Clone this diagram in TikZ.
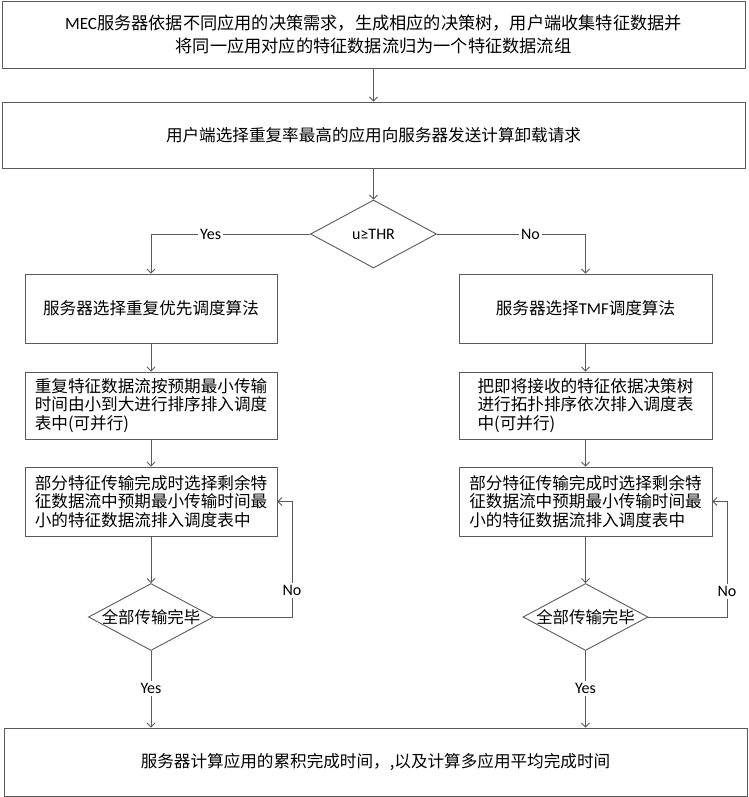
\documentclass[tikz,border=0pt]{standalone}
\usepackage{fontspec}
\setmainfont{Noto Sans CJK SC}
\newfontfamily\lat{Carlito}
\usetikzlibrary{shapes.geometric,arrows.meta}
\definecolor{ln}{HTML}{5A5A5A}
\tikzset{
  box/.style={draw=ln,line width=0.9pt,rectangle,inner sep=0pt,align=center,font=\fontsize{16.6}{18.5}\selectfont},
  lbox/.style={box,align=left},
  dia/.style={draw=ln,line width=0.9pt,diamond,inner sep=0pt},
  diatext/.style={font=\fontsize{16.4}{18}\selectfont,inner sep=0pt},
  arr/.style={draw=ln,line width=0.9pt,-{Straight Barb[length=4pt,width=8pt]}},
  lab/.style={fill=white,inner sep=2pt,font=\lat\fontsize{16}{18}\selectfont}
}
\begin{document}
\begin{tikzpicture}[x=1pt,y=1pt]
\useasboundingbox (0,0) rectangle (748,-797);
\node[box,minimum width=743pt,minimum height=67pt,font=\fontsize{17.2}{23}\selectfont] (b1) at (373.5,-34.5) {{\lat MEC}服务器依据不同应用的决策需求，生成相应的决策树，用户端收集特征数据并\\将同一应用对应的特征数据流归为一个特征数据流组};
\node[box,minimum width=743pt,minimum height=66pt] (b2) at (373.5,-135) {用户端选择重复率最高的应用向服务器发送计算卸载请求};
\node[dia,minimum width=126pt,minimum height=68pt,label={[diatext,font=\lat\fontsize{16}{18}\selectfont]center:u≥THR}] (d1) at (373.5,-234) {};
\node[box,minimum width=252pt,minimum height=69pt] (b3L) at (151,-308.5) {服务器选择重复优先调度算法};
\node[box,minimum width=253pt,minimum height=69pt] (b3R) at (585.5,-308.5) {服务器选择{\lat TMF}调度算法};
\node[lbox,minimum width=252pt,minimum height=67pt] (b4L) at (151,-405.5) {重复特征数据流按预期最小传输\\时间由小到大进行排序排入调度\\表中(可并行)};
\node[lbox,minimum width=253pt,minimum height=67pt] (b4R) at (585.5,-405.5) {把即将接收的特征依据决策树\\进行拓扑排序依次排入调度表\\中(可并行)};
\node[lbox,minimum width=252pt,minimum height=69pt] (b5L) at (151,-501.5) {部分特征传输完成时选择剩余特\\征数据流中预期最小传输时间最\\小的特征数据流排入调度表中};
\node[lbox,minimum width=253pt,minimum height=69pt] (b5R) at (585.5,-501.5) {部分特征传输完成时选择剩余特\\征数据流中预期最小传输时间最\\小的特征数据流排入调度表中};
\node[dia,minimum width=125pt,minimum height=67pt,label={[diatext]center:全部传输完毕}] (d2L) at (151,-617) {};
\node[dia,minimum width=125pt,minimum height=67pt,label={[diatext]center:全部传输完毕}] (d2R) at (585.5,-617) {};
\node[box,minimum width=743pt,minimum height=68pt] (b6) at (375.5,-762) {服务器计算应用的累积完成时间，,以及计算多应用平均完成时间};
\coordinate (cL) at (151,-234);
\coordinate (cR) at (585.5,-234);
\coordinate (lL) at (292,-617);
\coordinate (lR) at (727,-617);
\draw[arr] (b1) -- (b2);
\draw[arr] (b2) -- (d1);
\draw[arr] (d1.west) -- node[lab,pos=0.625]{Yes} (cL) -- (b3L.north);
\draw[arr] (d1.east) -- node[lab,pos=0.63]{No} (cR) -- (b3R.north);
\draw[arr] (b3L) -- (b4L);
\draw[arr] (b3R) -- (b4R);
\draw[arr] (b4L) -- (b5L);
\draw[arr] (b4R) -- (b5R);
\draw[arr] (b5L) -- (d2L);
\draw[arr] (b5R) -- (d2R);
\draw[arr] (d2L.east) -- (lL) -- node[lab,pos=0.23]{No} (lL |- b5L.east) -- (b5L.east);
\draw[arr] (d2R.east) -- (lR) -- node[lab,pos=0.22]{No} (lR |- b5R.east) -- (b5R.east);
\draw[arr] (d2L.south) -- node[lab,pos=0.49]{Yes} (d2L.south |- b6.north);
\draw[arr] (d2R.south) -- node[lab,pos=0.49]{Yes} (d2R.south |- b6.north);
\end{tikzpicture}
\end{document}
